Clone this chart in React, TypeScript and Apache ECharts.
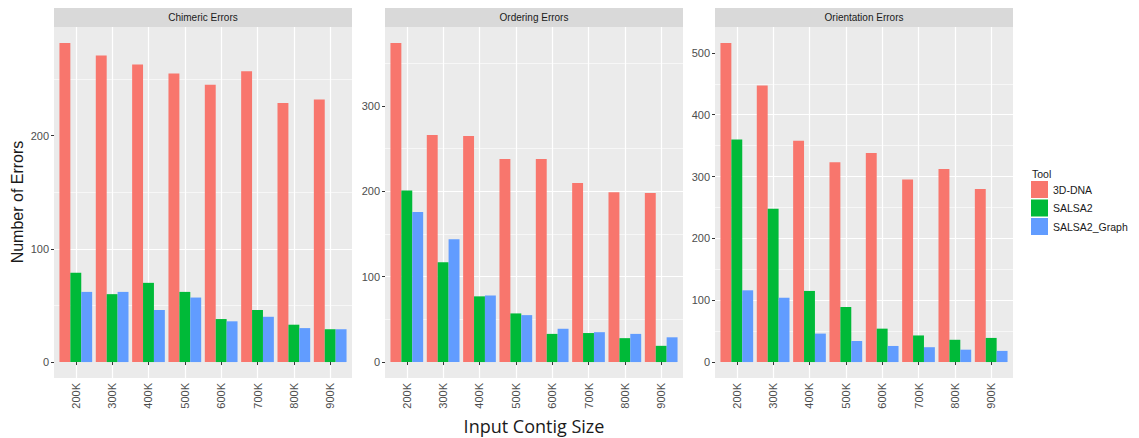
import React, { useEffect, useRef } from "react";
import * as echarts from "echarts";

const categories = ["200K", "300K", "400K", "500K", "600K", "700K", "800K", "900K"];
const tools = ["3D-DNA", "SALSA2", "SALSA2_Graph"];
const panelTitles = ["Chimeric Errors", "Ordering Errors", "Orientation Errors"];

const chimeric3DDNA = [282, 271, 263, 255, 245, 257, 229, 232];
const chimericSALSA2 = [79, 60, 70, 62, 38, 46, 33, 29];
const chimericGraph = [62, 62, 46, 57, 36, 40, 30, 29];

const ordering3DDNA = [374, 266, 265, 238, 238, 210, 199, 198];
const orderingSALSA2 = [201, 117, 77, 57, 33, 34, 28, 19];
const orderingGraph = [176, 144, 78, 55, 39, 35, 33, 29];

const orientation3DDNA = [516, 447, 358, 323, 338, 295, 312, 280];
const orientationSALSA2 = [360, 248, 115, 89, 54, 43, 36, 39];
const orientationGraph = [116, 104, 46, 34, 26, 24, 20, 18];

const yTicksChimeric = [0, 100, 200];
const yTicksOrdering = [0, 100, 200, 300];
const yTicksOrientation = [0, 100, 200, 300, 400, 500];

const toolColors = ["#F8766D", "#00BA38", "#619CFF"];
const FONT = "'Liberation Sans', Arial, sans-serif";

export default function App() {
  const ref = useRef<HTMLDivElement>(null);

  useEffect(() => {
    document.body.style.margin = "0";
    if (!ref.current) return;
    const chart = echarts.init(ref.current, undefined, { renderer: "svg" });

    const panels = [
      { series: [chimeric3DDNA, chimericSALSA2, chimericGraph], ticks: yTicksChimeric, split: 3 },
      { series: [ordering3DDNA, orderingSALSA2, orderingGraph], ticks: yTicksOrdering, split: 4 },
      { series: [orientation3DDNA, orientationSALSA2, orientationGraph], ticks: yTicksOrientation, split: 6 },
    ];

    const PANEL_LEFT = [54, 385, 715];
    const PANEL_W = 298;
    const TOP = 27;
    const BOTTOM_Y = 378;
    const H = BOTTOM_Y - TOP;
    const unit = PANEL_W / 8.2;

    const grid: any[] = [];
    const xAxis: any[] = [];
    const yAxis: any[] = [];
    const series: any[] = [];
    const graphic: any[] = [];

    panels.forEach((p, i) => {
      const L = PANEL_LEFT[i];
      const maxV = Math.max(...p.series.map((s) => Math.max(...s)));
      const yMin = -0.05 * maxV;
      const yMax = 1.05 * maxV;

      grid.push({
        left: L, top: TOP, width: PANEL_W, height: H,
        show: true, backgroundColor: "#EBEBEB", borderWidth: 0,
      });
      grid.push({
        left: L + 0.1 * unit, top: TOP, width: 8 * unit, height: H, show: false,
      });

      xAxis.push({ type: "value", gridIndex: 2 * i, show: false, min: 0, max: 1 });
      xAxis.push({
        type: "category", gridIndex: 2 * i + 1, data: categories, boundaryGap: true,
        axisLine: { show: false },
        axisTick: { show: true, alignWithLabel: true, length: 3, lineStyle: { color: "#333", width: 1 } },
        axisLabel: { rotate: 90, margin: 5, fontSize: 11, color: "#4D4D4D", fontFamily: FONT },
        splitLine: { show: true, alignWithLabel: true, lineStyle: { color: "#FFFFFF", width: 1.2 } },
      });

      yAxis.push({
        type: "value", gridIndex: 2 * i, min: yMin, max: yMax, splitNumber: p.split,
        axisLine: { show: false },
        axisTick: { show: true, length: 3, customValues: p.ticks, lineStyle: { color: "#333", width: 1 } },
        axisLabel: { customValues: p.ticks, margin: 5, fontSize: 11, color: "#4D4D4D", fontFamily: FONT },
        splitLine: {
          show: true, showMinLine: false, showMaxLine: false, customValues: p.ticks,
          lineStyle: { color: "#FFFFFF", width: 1.2 },
        },
        minorTick: { show: false, splitNumber: 2 },
        minorSplitLine: { show: true, lineStyle: { color: "#FFFFFF", width: 0.6 } },
      });
      yAxis.push({ type: "value", gridIndex: 2 * i + 1, min: yMin, max: yMax, show: false });

      p.series.forEach((data, t) => {
        series.push({
          type: "bar", name: tools[t], xAxisIndex: 2 * i + 1, yAxisIndex: 2 * i + 1,
          data, barGap: "0%", barCategoryGap: "10%", silent: true,
          itemStyle: { color: toolColors[t] },
        });
      });

      graphic.push({
        type: "rect", left: L, top: 8, shape: { width: PANEL_W, height: 19 },
        style: { fill: "#D9D9D9" }, silent: true,
      });
      graphic.push({
        type: "text", x: L + PANEL_W / 2, y: 17.5,
        style: {
          text: panelTitles[i], fontSize: 10, fill: "#1A1A1A", fontFamily: FONT,
          textAlign: "center", textVerticalAlign: "middle",
        },
        silent: true,
      });
    });

    graphic.push({
      type: "text", x: 17, y: 202, rotation: Math.PI / 2,
      style: {
        text: "Number of Errors", fontSize: 16, fill: "#1A1A1A", fontFamily: FONT,
        textAlign: "center", textVerticalAlign: "middle",
      },
      silent: true,
    });
    graphic.push({
      type: "text", x: 534, y: 426,
      style: {
        text: "Input Contig Size", fontSize: 18, fill: "#1A1A1A", fontFamily: "'Open Sans', sans-serif",
        textAlign: "center", textVerticalAlign: "middle",
      },
      silent: true,
    });
    graphic.push({
      type: "text", x: 1032, y: 174,
      style: {
        text: "Tool", fontSize: 10.5, fill: "#1A1A1A", fontFamily: FONT,
        textAlign: "left", textVerticalAlign: "middle",
      },
      silent: true,
    });

    chart.setOption({
      animation: false,
      backgroundColor: "#FFFFFF",
      grid, xAxis, yAxis, series, graphic,
      legend: {
        data: tools, orient: "vertical", left: 1031, top: 181,
        itemWidth: 17, itemHeight: 17, itemGap: 1.5, icon: "rect", padding: 0,
        selectedMode: false,
        textStyle: { fontSize: 10.5, color: "#1A1A1A", fontFamily: FONT },
      },
    });

    return () => chart.dispose();
  }, []);

  return <div ref={ref} style={{ width: 1139, height: 438 }} />;
}
